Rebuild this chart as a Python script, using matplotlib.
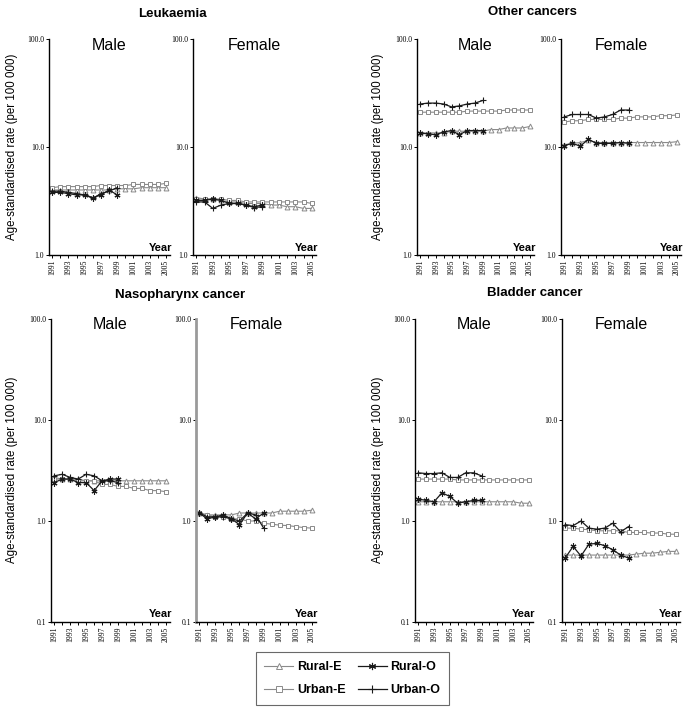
import matplotlib
matplotlib.use("Agg")
import matplotlib.pyplot as plt
from matplotlib.ticker import NullLocator, FixedLocator

# ---------------- data ----------------
years_e = list(range(1991, 2006))
years_o = list(range(1991, 2000))
xtick_years = [1991, 1993, 1995, 1997, 1999, 2001, 2003, 2005]
xtick_labels = ["1991", "1993", "1995", "1997", "1999", "1001", "1003", "2005"]

series_names = ["Rural-E", "Rural-O", "Urban-E", "Urban-O"]

# Leukaemia
leuk_m_rural_e = [4.0, 4.0, 4.0, 4.0, 4.0, 4.0, 4.0, 4.0, 4.1, 4.1, 4.1, 4.2, 4.2, 4.2, 4.2]
leuk_m_urban_e = [4.2, 4.3, 4.3, 4.3, 4.3, 4.3, 4.4, 4.4, 4.4, 4.4, 4.5, 4.5, 4.5, 4.5, 4.6]
leuk_m_rural_o = [3.8, 3.8, 3.7, 3.6, 3.6, 3.4, 3.6, 4.0, 3.6]
leuk_m_urban_o = [3.9, 3.9, 3.8, 3.7, 3.6, 3.35, 3.7, 3.9, 4.2]
leuk_f_rural_e = [3.4, 3.3, 3.3, 3.2, 3.1, 3.1, 3.0, 3.0, 3.0, 2.9, 2.9, 2.8, 2.8, 2.7, 2.7]
leuk_f_urban_e = [3.3, 3.3, 3.3, 3.3, 3.2, 3.2, 3.1, 3.1, 3.1, 3.1, 3.1, 3.1, 3.1, 3.1, 3.0]
leuk_f_rural_o = [3.2, 3.2, 3.3, 3.2, 3.0, 3.0, 2.9, 2.8, 2.9]
leuk_f_urban_o = [3.1, 3.1, 2.7, 2.9, 3.0, 3.0, 2.9, 2.75, 2.8]

# Other cancers
oth_m_rural_e = [13.5, 13.5, 13.5, 13.5, 14.0, 14.0, 14.0, 14.0, 14.0, 14.5, 14.5, 15.0, 15.0, 15.0, 15.5]
oth_m_urban_e = [21.0, 21.0, 21.0, 21.0, 21.0, 21.0, 21.5, 21.5, 21.5, 21.5, 21.5, 22.0, 22.0, 22.0, 22.0]
oth_m_rural_o = [13.5, 13.2, 13.0, 13.8, 14.2, 13.0, 14.2, 14.2, 14.2]
oth_m_urban_o = [25.0, 25.5, 25.5, 25.0, 23.5, 24.0, 25.0, 25.5, 27.0]
oth_f_rural_e = [10.5, 10.8, 11.0, 11.5, 11.0, 11.0, 11.0, 11.0, 11.0, 11.0, 11.0, 11.0, 11.0, 11.0, 11.2]
oth_f_urban_e = [17.0, 17.5, 17.5, 18.0, 18.0, 18.0, 18.0, 18.5, 18.5, 19.0, 19.0, 19.0, 19.5, 19.5, 19.8]
oth_f_rural_o = [10.3, 10.8, 10.2, 11.8, 10.8, 10.8, 10.8, 11.0, 10.8]
oth_f_urban_o = [19.0, 20.0, 20.0, 20.0, 18.5, 19.0, 20.0, 22.0, 22.0]

# Nasopharynx cancer
naso_m_rural_e = [2.7, 2.6, 2.6, 2.6, 2.5, 2.5, 2.5, 2.5, 2.5, 2.5, 2.5, 2.5, 2.5, 2.5, 2.5]
naso_m_urban_e = [2.6, 2.6, 2.6, 2.5, 2.5, 2.5, 2.3, 2.3, 2.2, 2.2, 2.1, 2.1, 2.0, 2.0, 1.95]
naso_m_rural_o = [2.4, 2.6, 2.6, 2.4, 2.4, 2.0, 2.5, 2.6, 2.6]
naso_m_urban_o = [2.8, 2.9, 2.7, 2.6, 2.9, 2.8, 2.5, 2.5, 2.4]
naso_f_rural_e = [1.2, 1.15, 1.15, 1.15, 1.15, 1.2, 1.2, 1.2, 1.2, 1.2, 1.25, 1.25, 1.25, 1.25, 1.28]
naso_f_urban_e = [1.2, 1.15, 1.1, 1.1, 1.05, 1.05, 1.0, 1.0, 0.95, 0.93, 0.91, 0.9, 0.88, 0.86, 0.85]
naso_f_rural_o = [1.2, 1.05, 1.1, 1.15, 1.05, 0.92, 1.2, 1.05, 1.2]
naso_f_urban_o = [1.2, 1.1, 1.1, 1.1, 1.05, 1.0, 1.2, 1.15, 0.85]

# Bladder cancer
blad_m_rural_e = [1.55, 1.55, 1.55, 1.55, 1.55, 1.55, 1.55, 1.55, 1.55, 1.55, 1.55, 1.55, 1.55, 1.5, 1.5]
blad_m_urban_e = [2.6, 2.6, 2.6, 2.6, 2.6, 2.55, 2.55, 2.55, 2.55, 2.55, 2.55, 2.55, 2.55, 2.55, 2.55]
blad_m_rural_o = [1.65, 1.6, 1.55, 1.9, 1.75, 1.5, 1.55, 1.6, 1.6]
blad_m_urban_o = [3.0, 2.95, 2.95, 3.0, 2.7, 2.7, 3.0, 3.0, 2.8]
blad_f_rural_e = [0.46, 0.46, 0.46, 0.46, 0.46, 0.46, 0.46, 0.46, 0.46, 0.47, 0.48, 0.48, 0.49, 0.5, 0.5]
blad_f_urban_e = [0.85, 0.85, 0.83, 0.82, 0.8, 0.8, 0.8, 0.8, 0.77, 0.77, 0.77, 0.76, 0.76, 0.74, 0.74]
blad_f_rural_o = [0.43, 0.56, 0.45, 0.59, 0.6, 0.57, 0.52, 0.46, 0.43]
blad_f_urban_o = [0.92, 0.9, 1.0, 0.85, 0.83, 0.85, 0.95, 0.78, 0.88]

# ---------------- styling ----------------
GRAY = "#8a8a8a"
DARK = "#1a1a1a"
SANS = ["Liberation Sans", "DejaVu Sans"]
SERIF = ["Liberation Serif", "DejaVu Serif"]
ASTER = (6, 2, 0)

styles = {
    "Rural-E": dict(color=GRAY, marker="^", mfc="white", mec=GRAY, ms=3.5, lw=0.8, mew=0.7),
    "Urban-E": dict(color=GRAY, marker="s", mfc="white", mec=GRAY, ms=3.3, lw=0.8, mew=0.7),
    "Rural-O": dict(color=DARK, marker=ASTER, mfc="none", mec=DARK, ms=4.3, lw=0.9, mew=0.8),
    "Urban-O": dict(color=DARK, marker="+", mfc="none", mec=DARK, ms=4.5, lw=0.9, mew=0.8),
}

W, H = 685, 718
fig = plt.figure(figsize=(W / 100, H / 100), dpi=100)


def px_axes(left, right, top, bottom):
    return fig.add_axes([left / W, 1 - bottom / H, (right - left) / W, (bottom - top) / H])


def panel(ax, sex, rural_e, urban_e, rural_o, urban_o, ylow, spine_color="black"):
    for name, xs, ys in [("Rural-E", years_e, rural_e), ("Urban-E", years_e, urban_e),
                         ("Rural-O", years_o, rural_o), ("Urban-O", years_o, urban_o)]:
        ax.plot(xs, ys, label=name, **styles[name])
    ax.set_yscale("log")
    ax.set_ylim(ylow, 100)
    ax.set_xlim(1990.6, 2005.5)
    for s in ("top", "right"):
        ax.spines[s].set_visible(False)
    ax.spines["left"].set_linewidth(1.0)
    ax.spines["bottom"].set_linewidth(1.0)
    ax.spines["left"].set_color(spine_color)
    if spine_color != "black":
        ax.spines["left"].set_linewidth(2.0)
    yt = [v for v in [0.1, 1.0, 10.0, 100.0] if v >= ylow]
    ax.yaxis.set_major_locator(FixedLocator(yt))
    ax.yaxis.set_minor_locator(NullLocator())
    ax.set_yticklabels(["%.1f" % v for v in yt], fontfamily=SERIF, fontsize=5.5)
    ax.xaxis.set_major_locator(FixedLocator(xtick_years))
    ax.xaxis.set_minor_locator(FixedLocator(years_e))
    ax.set_xticklabels(xtick_labels, rotation=90, fontfamily=SERIF, fontsize=5.5)
    ax.tick_params(axis="y", length=2.5, width=0.7, pad=1)
    ax.tick_params(axis="x", which="both", length=2.5, width=0.7, pad=1)
    ax.text(0.5, 1.005, sex, transform=ax.transAxes, ha="center", va="top",
            fontsize=11.5, family=SANS)
    ax.text(1.02, 0.01, "Year", transform=ax.transAxes, ha="right", va="bottom",
            fontsize=8, fontweight="bold", family=SANS)


# top row
top_t, top_b = 39, 255
ax1 = px_axes(49, 170, top_t, top_b)
ax2 = px_axes(193, 316, top_t, top_b)
ax3 = px_axes(417, 534, top_t, top_b)
ax4 = px_axes(561, 681, top_t, top_b)
# bottom row
bot_t, bot_b = 319, 622
ax5 = px_axes(51, 170, bot_t, bot_b)
ax6 = px_axes(196, 316, bot_t, bot_b)
ax7 = px_axes(415, 533, bot_t, bot_b)
ax8 = px_axes(562, 680, bot_t, bot_b)

panel(ax1, "Male", leuk_m_rural_e, leuk_m_urban_e, leuk_m_rural_o, leuk_m_urban_o, 1.0)
panel(ax2, "Female", leuk_f_rural_e, leuk_f_urban_e, leuk_f_rural_o, leuk_f_urban_o, 1.0)
panel(ax3, "Male", oth_m_rural_e, oth_m_urban_e, oth_m_rural_o, oth_m_urban_o, 1.0)
panel(ax4, "Female", oth_f_rural_e, oth_f_urban_e, oth_f_rural_o, oth_f_urban_o, 1.0)
panel(ax5, "Male", naso_m_rural_e, naso_m_urban_e, naso_m_rural_o, naso_m_urban_o, 0.1)
panel(ax6, "Female", naso_f_rural_e, naso_f_urban_e, naso_f_rural_o, naso_f_urban_o, 0.1,
      spine_color="#9a9a9a")
panel(ax7, "Male", blad_m_rural_e, blad_m_urban_e, blad_m_rural_o, blad_m_urban_o, 0.1)
panel(ax8, "Female", blad_f_rural_e, blad_f_urban_e, blad_f_rural_o, blad_f_urban_o, 0.1)

# group titles
for text, xc, yc in [("Leukaemia", 172, 14), ("Other cancers", 532, 12),
                     ("Nasopharynx cancer", 180, 295), ("Bladder cancer", 535, 293)]:
    fig.text(xc / W, 1 - yc / H, text, ha="center", va="center", fontsize=9.5,
             fontweight="bold", family=SANS)

# y labels
ylab = "Age-standardised rate (per 100 000)"
for xc, yc in [(12, 147), (378, 147), (12, 470), (378, 470)]:
    fig.text(xc / W, 1 - yc / H, ylab, rotation=90, ha="center", va="center",
             fontsize=8.3, family=SANS)

# legend
handles, labels = ax1.get_legend_handles_labels()
order = [labels.index(n) for n in ["Rural-E", "Urban-E", "Rural-O", "Urban-O"]]
leg = fig.legend([handles[i] for i in order], [labels[i] for i in order],
                 ncol=2, loc="center", bbox_to_anchor=(352.5 / W, 1 - 678.5 / H),
                 frameon=True, fancybox=False, edgecolor="#444444",
                 prop=dict(family=SANS, weight="bold", size=9),
                 handlelength=2.3, columnspacing=1.0, handletextpad=0.3,
                 borderpad=0.7, labelspacing=0.9, markerscale=1.2)
leg.get_frame().set_linewidth(0.8)

fig.savefig("out.png", dpi=100)
